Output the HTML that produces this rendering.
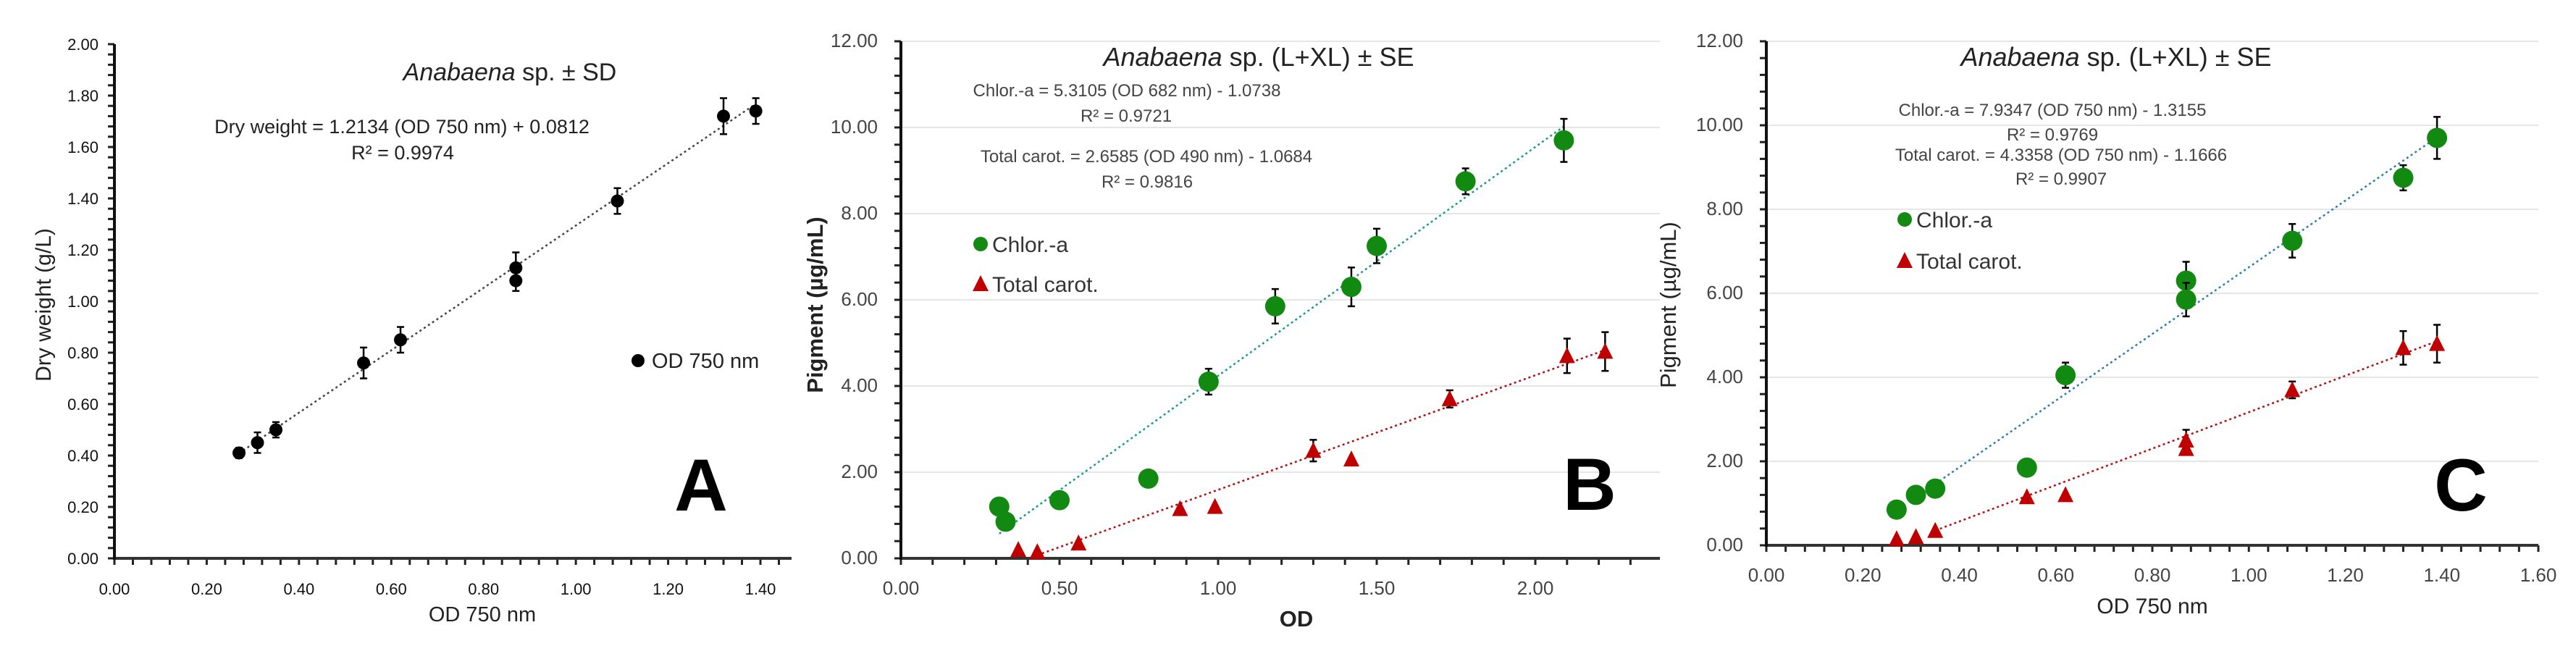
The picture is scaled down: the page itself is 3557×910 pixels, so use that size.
<!DOCTYPE html>
<html><head><meta charset="utf-8"><style>
html,body{margin:0;padding:0;background:#fff;}
svg{display:block;font-family:"Liberation Sans",sans-serif;}
</style></head><body>
<svg id="fig" width="3557" height="910" viewBox="0 0 3557 910" xmlns="http://www.w3.org/2000/svg"></svg>
<script>
// Panel A data
const aOD=[0.27,0.31,0.35,0.54,0.62,0.87,0.87,1.09,1.32,1.39];
const aDW=[0.41,0.45,0.50,0.76,0.85,1.13,1.08,1.39,1.72,1.74];
const aErr=[0.02,0.04,0.03,0.06,0.05,0.06,0.04,0.05,0.07,0.05];
const aYTicks=["0.00","0.20","0.40","0.60","0.80","1.00","1.20","1.40","1.60","1.80","2.00"];
const aXTicks=["0.00","0.20","0.40","0.60","0.80","1.00","1.20","1.40"];
// Panel B data
const bChlOD=[0.31,0.33,0.50,0.78,0.97,1.18,1.42,1.50,1.78,2.09];
const bChl=[1.2,0.85,1.35,1.85,4.1,5.85,6.3,7.25,8.75,9.7];
const bChlErr=[0,0,0,0,0.3,0.4,0.45,0.4,0.3,0.5];
const bCarOD=[0.37,0.43,0.56,0.88,0.99,1.30,1.42,1.73,2.10,2.22];
const bCar=[0.2,0.15,0.35,1.15,1.2,2.5,2.3,3.7,4.7,4.8];
const bCarErr=[0,0,0,0,0,0.25,0,0.2,0.4,0.45];
const bXTicks=["0.00","0.50","1.00","1.50","2.00"];
// Panel C data
const cOD=[0.27,0.31,0.35,0.54,0.62,0.87,0.87,1.09,1.32,1.39];
const cChl=[0.85,1.2,1.35,1.85,4.05,6.3,5.85,7.25,8.75,9.7];
const cChlErr=[0,0,0,0,0.3,0.45,0.4,0.4,0.3,0.5];
const cCar=[0.15,0.2,0.35,1.15,1.2,2.5,2.3,3.7,4.7,4.8];
const cCarErr=[0,0,0,0,0,0.25,0,0.2,0.4,0.45];
const pigYTicks=["0.00","2.00","4.00","6.00","8.00","10.00","12.00"];
const cXTicks=["0.00","0.20","0.40","0.60","0.80","1.00","1.20","1.40","1.60"];

const NS="http://www.w3.org/2000/svg";
const svg=document.getElementById('fig');
function mk(tag,attrs,parent){const e=document.createElementNS(NS,tag);for(const k in attrs)e.setAttribute(k,attrs[k]);(parent||svg).appendChild(e);return e;}
function txt(s,x,y,size,opts,parent){opts=opts||{};const t=mk('text',{x:x,y:y,'font-size':size,fill:opts.fill||'#333','text-anchor':opts.anchor||'middle','font-weight':opts.bold?'bold':'normal','font-style':opts.italic?'italic':'normal'},parent);if(opts.rot)t.setAttribute('transform','rotate(-90 '+x+' '+y+')');t.textContent=s;return t;}

function axes(g,x0,y0,xEnd,yTop,xmax,xMajor,xMinor,ymax,yMajor,yMinor,xLabels,yLabels,grid,lblColor,fs,lblDX){
  const sx=v=>x0+v/xmax*(xEnd-x0), sy=v=>y0-v/ymax*(y0-yTop);
  if(grid){for(let i=1;i<yLabels.length;i++){const l=mk('line',{x1:x0,x2:xEnd,y1:sy(i*yMajor),y2:sy(i*yMajor),stroke:'#e6e6e6','stroke-width':2},g);}}
  for(let v=0;v<=xmax+1e-9;v+=xMinor){mk('line',{x1:sx(v),x2:sx(v),y1:y0,y2:y0+9,stroke:'#222','stroke-width':3},g);}
  for(let v=0;v<=ymax+1e-9;v+=yMinor){mk('line',{x1:x0-9,x2:x0,y1:sy(v),y2:sy(v),stroke:'#222','stroke-width':3},g);}
  const ax=mk('line',{x1:x0,x2:xEnd,y1:y0,y2:y0,stroke:'#333','stroke-width':4},g);
  const ay=mk('line',{x1:x0,x2:x0,y1:y0+2,y2:yTop,stroke:'#111','stroke-width':4},g);
  xLabels.forEach((s,i)=>{const t=txt(s,sx(i*xMajor),y0+50,fs,{fill:lblColor},g);});
  yLabels.forEach((s,i)=>{const t=txt(s,x0-lblDX,sy(i*yMajor)+8,fs,{fill:lblColor,anchor:'end'},g);});
  return {sx,sy};
}
function errbar(g,sx,sy,x,y,e,col){if(!e)return;const cx=sx(x);mk('line',{x1:cx,x2:cx,y1:sy(y-e),y2:sy(y+e),stroke:col,'stroke-width':2.5},g);mk('line',{x1:cx-5,x2:cx+5,y1:sy(y+e),y2:sy(y+e),stroke:col,'stroke-width':2.5},g);mk('line',{x1:cx-5,x2:cx+5,y1:sy(y-e),y2:sy(y-e),stroke:col,'stroke-width':2.5},g);}
function circle(g,cx,cy,r,col){const c=mk('circle',{cx:cx,cy:cy,r:r,fill:col},g);return c;}
function tri(g,cx,cy,col){const p=mk('polygon',{points:(cx)+','+(cy-12)+' '+(cx-11)+','+(cy+10)+' '+(cx+11)+','+(cy+10),fill:col},g);return p;}
function fit(g,sx,sy,m,b,x1,x2,col){const l=mk('line',{x1:sx(x1),y1:sy(m*x1+b),x2:sx(x2),y2:sy(m*x2+b),stroke:col,'stroke-width':2.5,'stroke-dasharray':'3,4'},g);return l;}

// ---------- Panel A ----------
const gA=mk('g',{});
const A=axes(gA,158,771,1093,61,1.4*(1093-158)/(1050-158),0.2,0.04,2.0,0.2,0.04,aXTicks,aYTicks,false,'#111',22,22);
let t;
t=fit(gA,A.sx,A.sy,1.2134,0.0812,0.27,1.39,'#444');
aOD.forEach((x,i)=>{errbar(gA,A.sx,A.sy,x,aDW[i],aErr[i],'#000');const c=circle(gA,A.sx(x),A.sy(aDW[i]),9,'#000');});
const tA=mk('text',{x:704,y:111,'font-size':34,'text-anchor':'middle',fill:'#222'},gA);tA.innerHTML='<tspan font-style="italic">Anabaena</tspan> sp. ± SD';
t=txt('Dry weight  = 1.2134 (OD 750 nm) + 0.0812',555,184,27,{fill:'#222'},gA);
t=txt('R² = 0.9974',556,220,27,{fill:'#222'},gA);
t=txt('Dry weight (g/L)',70,421,30,{fill:'#222',rot:true},gA);
t=txt('OD 750 nm',666,858,29,{fill:'#222'},gA);
t=circle(gA,881,498,9,'#000');
t=txt('OD 750 nm',900,508,29,{fill:'#222',anchor:'start'},gA);
t=txt('A',968,705,102,{fill:'#000',bold:true},gA);

// ---------- Panel B ----------
const gB=mk('g',{});
const B=axes(gB,1244,771,2292,57,2.0*(2292-1244)/(2120-1244),0.5,0.1,12,2,0.4,bXTicks,pigYTicks,true,'#444',26,32);
t=fit(gB,B.sx,B.sy,5.3105,-1.0738,0.31,2.09,'#1a9a8a');
t=fit(gB,B.sx,B.sy,2.6585,-1.0684,0.43,2.22,'#b01010');
bChlOD.forEach((x,i)=>{errbar(gB,B.sx,B.sy,x,bChl[i],bChlErr[i],'#000');const c=circle(gB,B.sx(x),B.sy(bChl[i]),14,'#128a12');});
bCarOD.forEach((x,i)=>{errbar(gB,B.sx,B.sy,x,bCar[i],bCarErr[i],'#000');const p=tri(gB,B.sx(x),B.sy(bCar[i]),'#c00000');});
const tB=mk('text',{x:1738,y:91,'font-size':36,'text-anchor':'middle',fill:'#222'},gB);tB.innerHTML='<tspan font-style="italic">Anabaena</tspan> sp. (L+XL) ± SE';
t=txt('Chlor.-a = 5.3105 (OD 682 nm) - 1.0738',1556,133,24,{fill:'#444'},gB);
t=txt('R² = 0.9721',1555,168,24,{fill:'#444'},gB);
t=txt('Total carot. = 2.6585 (OD 490 nm) - 1.0684',1583,224,24,{fill:'#444'},gB);
t=txt('R² = 0.9816',1584,259,24,{fill:'#444'},gB);
t=circle(gB,1354,337,10,'#128a12');
t=txt('Chlor.-a',1370,348,30,{fill:'#333',anchor:'start'},gB);
t=tri(gB,1354,392,'#c00000');
t=txt('Total carot.',1370,403,30,{fill:'#333',anchor:'start'},gB);
t=txt('Pigment (µg/mL)',1136,421,31,{fill:'#222',rot:true,bold:true},gB);
t=txt('OD',1790,865,31,{fill:'#222',bold:true},gB);
t=txt('B',2195,704,102,{fill:'#000',bold:true},gB);

// ---------- Panel C ----------
const gC=mk('g',{});
const C=axes(gC,2439,753,3505,57,1.6,0.2,0.04,12,2,0.4,cXTicks,pigYTicks,true,'#444',26,32);
t=fit(gC,C.sx,C.sy,7.9347,-1.3155,0.35,1.39,'#2a7fb0');
t=fit(gC,C.sx,C.sy,4.3358,-1.1666,0.35,1.39,'#b01010');
cOD.forEach((x,i)=>{errbar(gC,C.sx,C.sy,x,cChl[i],cChlErr[i],'#000');const c=circle(gC,C.sx(x),C.sy(cChl[i]),14,'#128a12');});
cOD.forEach((x,i)=>{errbar(gC,C.sx,C.sy,x,cCar[i],cCarErr[i],'#000');const p=tri(gC,C.sx(x),C.sy(cCar[i]),'#c00000');});
const tC=mk('text',{x:2922,y:91,'font-size':36,'text-anchor':'middle',fill:'#222'},gC);tC.innerHTML='<tspan font-style="italic">Anabaena</tspan> sp. (L+XL) ± SE';
t=txt('Chlor.-a = 7.9347 (OD 750 nm) - 1.3155',2834,160,24,{fill:'#444'},gC);
t=txt('R² = 0.9769',2834,194,24,{fill:'#444'},gC);
t=txt('Total carot. = 4.3358 (OD 750 nm) - 1.1666',2846,222,24,{fill:'#444'},gC);
t=txt('R² = 0.9907',2846,255,24,{fill:'#444'},gC);
t=circle(gC,2630,303,10,'#128a12');
t=txt('Chlor.-a',2646,314,30,{fill:'#333',anchor:'start'},gC);
t=tri(gC,2630,360,'#c00000');
t=txt('Total carot.',2646,371,30,{fill:'#333',anchor:'start'},gC);
t=txt('Pigment (µg/mL)',2314,421,31,{fill:'#222',rot:true},gC);
t=txt('OD 750 nm',2972,847,30,{fill:'#222'},gC);
t=txt('C',3398,705,102,{fill:'#000',bold:true},gC);
</script>
</body></html>
